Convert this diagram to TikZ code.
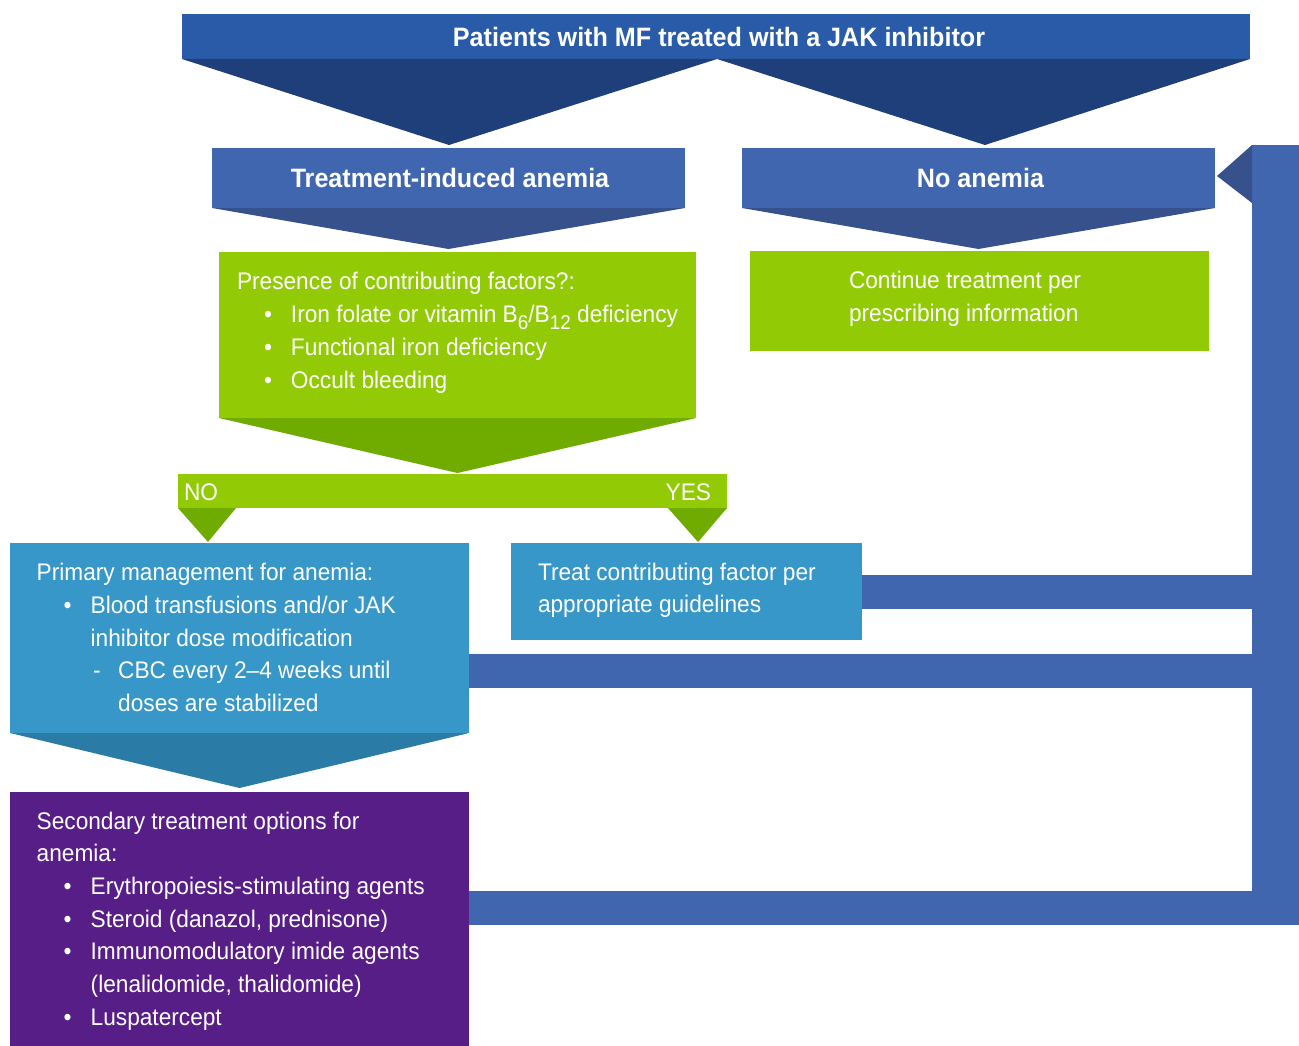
\documentclass[tikz,border=0pt]{standalone}
\usepackage{fontspec}
\setmainfont{Liberation Sans}[FakeStretch=0.945]
\usetikzlibrary{calc}

\definecolor{bannerblue}{HTML}{2A5BA8}
\definecolor{bannerdark}{HTML}{1F3F7B}
\definecolor{headblue}{HTML}{4066B0}
\definecolor{headdark}{HTML}{37518C}
\definecolor{leafgreen}{HTML}{92CB06}
\definecolor{leafdark}{HTML}{70AB00}
\definecolor{tealbox}{HTML}{3797C8}
\definecolor{tealdark}{HTML}{2A7BA6}
\definecolor{plum}{HTML}{561E86}
\definecolor{linkblue}{HTML}{4066B0}

% stacked lines with the first baseline as reference point
\newcommand{\linestack}[2]{\vtop{\baselineskip=#1\lineskiplimit=-100pt #2}}
\newcommand{\bulletitem}{\hspace*{27pt}\makebox[27pt][l]{\textbullet}}
\newcommand{\hangitem}{\hspace*{54pt}}
\newcommand{\dashitem}{\hspace*{56.5pt}\makebox[25pt][l]{-}}
\newcommand{\hangdash}{\hspace*{81.5pt}}
\newcommand{\sublow}[1]{\raisebox{-7pt}{\fontsize{20}{20}\selectfont #1}}

\begin{document}
\begin{tikzpicture}[x=1pt,y=-1pt,
  box/.style={rectangle, inner sep=0pt, outer sep=0pt, draw=none},
  heading/.style={box, text=white, font=\fontsize{26.6}{32}\selectfont\bfseries},
  body/.style={anchor=base west, inner sep=0pt, outer sep=0pt, text=white,
               font=\fontsize{24}{32.7}\selectfont},
  link/.style={draw=linkblue, line width=34pt}]

\useasboundingbox (0,0) rectangle (1299,1046);

% ---------- top banner and its two chevrons ----------
\node[heading, fill=bannerblue, minimum width=1068pt, minimum height=45pt]
  (banner) at (716,36.5) {\hspace*{6pt}Patients with MF treated with a JAK inhibitor};
\fill[bannerdark] (banner.south west) -- ([xshift=1pt]banner.south)
  -- (449,145) -- cycle;
\fill[bannerdark] ([xshift=1pt]banner.south) -- (banner.south east)
  -- (985,145) -- cycle;

% ---------- second row ----------
\node[heading, fill=headblue, minimum width=473pt, minimum height=60pt]
  (induced) at (448.5,178) {\hspace*{3pt}Treatment-induced anemia};
\node[heading, fill=headblue, minimum width=473pt, minimum height=60pt]
  (noanemia) at (978.5,178) {\hspace*{4pt}No anemia};
\fill[headdark] (induced.south west) -- (induced.south east)
  -- ($(induced.south)+(0,41)$) -- cycle;
\fill[headdark] (noanemia.south west) -- (noanemia.south east)
  -- ($(noanemia.south)+(0,41)$) -- cycle;

% ---------- contributing factors ----------
\node[box, fill=leafgreen, minimum width=477pt, minimum height=166pt]
  (factors) at (457.5,335) {};
\fill[leafdark] (factors.south west) -- (factors.south east)
  -- ($(factors.south)+(0,55)$) -- cycle;
\node[body] (factorstext) at ($(factors.north west)+(18,37)$) {\linestack{33pt}{%
  \hbox{Presence of contributing factors?:}
  \hbox{\bulletitem Iron folate or vitamin B\sublow{6}/B\sublow{12} deficiency}
  \hbox{\bulletitem Functional iron deficiency}
  \hbox{\bulletitem Occult bleeding}}};

\node[box, fill=leafgreen, minimum width=459pt, minimum height=100pt]
  (continue) at (979.5,301) {};
\node[body] (continuetext) at ($(continue.north west)+(99,37.7)$) {\linestack{32.7pt}{%
  \hbox{Continue treatment per}
  \hbox{prescribing information}}};

% ---------- NO / YES split ----------
\node[box, fill=leafgreen, minimum width=549pt, minimum height=34pt]
  (split) at (452.5,491) {};
\node[body] (notext) at (184,500) {NO};
\node[body, anchor=base east] (yestext) at (711,500) {YES};
\fill[leafdark] (split.south west) -- ($(split.south west)+(58,0)$)
  -- ($(split.south west)+(30,34)$) -- cycle;
\fill[leafdark] ($(split.south east)+(-59,0)$) -- (split.south east)
  -- ($(split.south east)+(-29,34)$) -- cycle;

% ---------- primary management ----------
\node[box, fill=tealbox, minimum width=459pt, minimum height=190pt]
  (primary) at (239.5,638) {};
\fill[tealdark] (primary.south west) -- (primary.south east)
  -- ($(primary.south)+(0,55)$) -- cycle;
\node[body] (primarytext) at ($(primary.north west)+(26.7,37.7)$) {\linestack{32.7pt}{%
  \hbox{Primary management for anemia:}
  \hbox{\bulletitem Blood transfusions and/or JAK}
  \hbox{\hangitem inhibitor dose modification}
  \hbox{\dashitem CBC every 2\textendash 4 weeks until}
  \hbox{\hangdash doses are stabilized}}};

% ---------- treat contributing factor ----------
\node[box, fill=tealbox, minimum width=351pt, minimum height=97pt]
  (treat) at (686.5,591.5) {};
\node[body] (treattext) at ($(treat.north west)+(27,37)$) {\linestack{32.7pt}{%
  \hbox{Treat contributing factor per}
  \hbox{appropriate guidelines}}};

% ---------- secondary treatment options ----------
\node[box, fill=plum, minimum width=459pt, minimum height=254pt]
  (secondary) at (239.5,919) {};
\node[body] (secondarytext) at ($(secondary.north west)+(26.7,37)$) {\linestack{32.7pt}{%
  \hbox{Secondary treatment options for}
  \hbox{anemia:}
  \hbox{\bulletitem Erythropoiesis-stimulating agents}
  \hbox{\bulletitem Steroid (danazol, prednisone)}
  \hbox{\bulletitem Immunomodulatory imide agents}
  \hbox{\hangitem (lenalidomide, thalidomide)}
  \hbox{\bulletitem Luspatercept}}};

% ---------- return path back to "No anemia" ----------
\node[box, fill=linkblue, minimum width=47pt, minimum height=780pt]
  (returnbar) at (1275.5,535) {};
\coordinate (fromtreat) at (treat.east);
\coordinate (fromprimary) at ($(primary.east)+(0,33)$);
\coordinate (fromsecondary) at ($(secondary.east)+(0,-11)$);
\draw[link] (fromtreat) -- (fromtreat -| returnbar.west);
\draw[link] (fromprimary) -- (fromprimary -| returnbar.west);
\draw[link] (fromsecondary) -- (fromsecondary -| returnbar.east);
\fill[headdark] (returnbar.north west) -- ($(returnbar.north west)+(0,58)$)
  -- ($(noanemia.east)+(2,-2)$) -- cycle;

\end{tikzpicture}
\end{document}
